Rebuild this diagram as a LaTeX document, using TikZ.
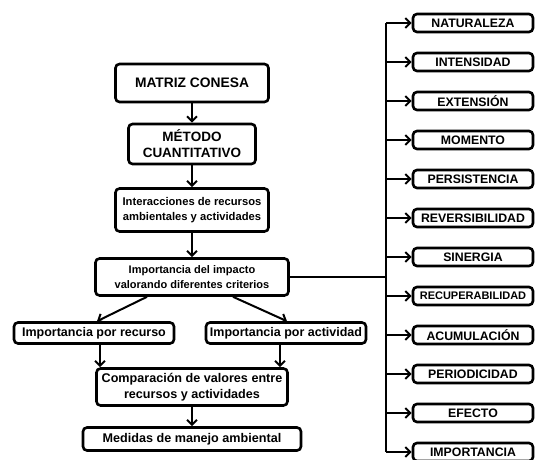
\documentclass[tikz,border=0pt]{standalone}
\usepackage{fontspec}
\setmainfont{Liberation Sans}
\usetikzlibrary{arrows.meta,positioning,calc}

\begin{document}
\begin{tikzpicture}[x=1pt,y=-1pt,node distance=18.4pt,
 >={Straight Barb[length=5pt,width=10pt]},
 box/.style={draw,line width=2.6pt,rounded corners=4pt,align=center,inner sep=2pt},
 crit/.style={box,minimum width=120pt,minimum height=18pt,
              font=\bfseries\fontsize{12.3}{14}\selectfont},
 link/.style={line width=2pt}]
\useasboundingbox (0,0) rectangle (542,459);
\clip (0,0) rectangle (542,459);
% left column
\node[box,minimum width=153pt,minimum height=38pt,font=\bfseries\fontsize{13.8}{16}\selectfont]
  (matriz) at (192,83) {MATRIZ CONESA};
\node[box,minimum width=127pt,minimum height=40pt,font=\bfseries\fontsize{13.5}{16}\selectfont]
  (metodo) at (192,144) {MÉTODO\\CUANTITATIVO};
\node[box,minimum width=153pt,minimum height=43pt,font=\bfseries\fontsize{11.2}{15}\selectfont]
  (inter) at (192,210) {Interacciones de recursos\\ambientales y actividades};
\node[box,minimum width=193pt,minimum height=37pt,font=\bfseries\fontsize{11}{15}\selectfont]
  (impacto) at (192,277) {Importancia del impacto\\valorando diferentes criterios};
\node[box,minimum width=160pt,minimum height=21pt,font=\bfseries\fontsize{12.5}{14}\selectfont]
  (recurso) at (94,333) {Importancia por recurso};
\node[box,minimum width=160pt,minimum height=21pt,font=\bfseries\fontsize{12.5}{14}\selectfont]
  (actividad) at (286,333) {Importancia por actividad};
\node[box,minimum width=191pt,minimum height=37pt,font=\bfseries\fontsize{12.6}{16}\selectfont]
  (comp) at (192,387) {Comparación de valores entre\\recursos y actividades};
\node[box,minimum width=218pt,minimum height=23pt,font=\bfseries\fontsize{12.6}{14}\selectfont]
  (medidas) at (192,439) {Medidas de manejo ambiental};
\draw[link,->] (matriz) -- (metodo);
\draw[link,->] (metodo) -- (inter);
\draw[link,->] (inter) -- (impacto);
\draw[link,->] ([xshift=-45pt]impacto.south) -- ([xshift=3pt]recurso.north);
\draw[link,->] ([xshift=41pt]impacto.south) -- ([xshift=1pt]actividad.north);
\draw[link,->] ([xshift=6pt]recurso.south) -- ([xshift=-92pt]comp.north);
\draw[link,->] ([xshift=-6pt]actividad.south) -- ([xshift=88pt]comp.north);
\draw[link,->] (comp) -- (medidas);
% criteria column
\node[crit] (nat) at (473,23) {NATURALEZA};
\node[crit,below=of nat] (int) {INTENSIDAD};
\node[crit,below=of int] (ext) {EXTENSIÓN};
\node[crit,below=of ext] (mom) {MOMENTO};
\node[crit,below=of mom] (per) {PERSISTENCIA};
\node[crit,below=of per] (rev) {REVERSIBILIDAD};
\node[crit,below=of rev] (sin) {SINERGIA};
\node[crit,below=of sin,font=\bfseries\fontsize{11}{14}\selectfont] (rec) {RECUPERABILIDAD};
\node[crit,below=of rec] (acu) {ACUMULACIÓN};
\node[crit,below=of acu] (pdc) {PERIODICIDAD};
\node[crit,below=of pdc] (efe) {EFECTO};
\node[crit,below=of efe] (imp) {IMPORTANCIA};
\coordinate (trunk) at (386,23);
\draw[link] (trunk |- nat.west) -- (trunk |- imp.west);
\draw[link] (impacto.east) -- (impacto.east -| trunk);
\draw[link,->] (trunk |- nat.west) -- (nat.west);
\draw[link,->] (trunk |- int.west) -- (int.west);
\draw[link,->] (trunk |- ext.west) -- (ext.west);
\draw[link,->] (trunk |- mom.west) -- (mom.west);
\draw[link,->] (trunk |- per.west) -- (per.west);
\draw[link,->] (trunk |- rev.west) -- (rev.west);
\draw[link,->] (trunk |- sin.west) -- (sin.west);
\draw[link,->] (trunk |- rec.west) -- (rec.west);
\draw[link,->] (trunk |- acu.west) -- (acu.west);
\draw[link,->] (trunk |- pdc.west) -- (pdc.west);
\draw[link,->] (trunk |- efe.west) -- (efe.west);
\draw[link,->] (trunk |- imp.west) -- (imp.west);
\end{tikzpicture}
\end{document}
